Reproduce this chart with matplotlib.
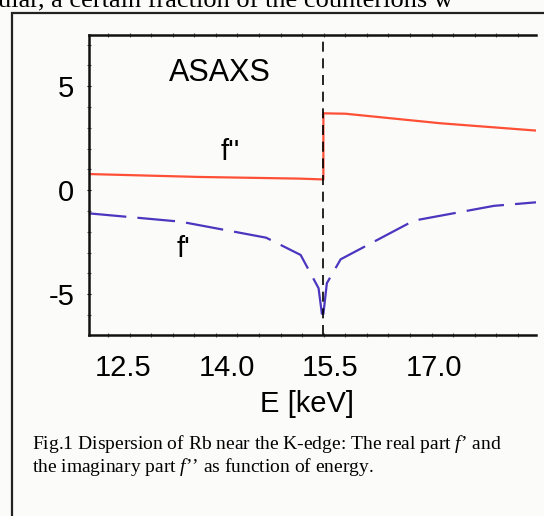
import matplotlib
matplotlib.use("Agg")
import matplotlib.pyplot as plt
from matplotlib.patches import Rectangle
import numpy as np

# --- datos ---
e_fpp = [12.0, 13.6, 15.05, 15.40, 15.40, 15.72, 17.10, 18.48]
fpp = [0.78, 0.64, 0.56, 0.52, 3.70, 3.68, 3.22, 2.87]

e_fp = [12.0, 13.33, 14.57, 15.07, 15.33, 15.39, 15.45, 15.65, 16.71, 17.87, 18.48]
fp = [-1.11, -1.51, -2.28, -3.11, -4.71, -6.24, -4.47, -3.32, -1.46, -0.75, -0.58]

e_borde = 15.40
xticks = [12.5, 14.0, 15.5, 17.0]
xtick_labels = ["12.5", "14.0", "15.5", "17.0"]
yticks = [-5, 0, 5]

fondo = "#fbfbf9"
rojo = "#ff4f36"
azul = "#4a36bf"

plt.rcParams["font.family"] = ["Liberation Sans", "DejaVu Sans"]
plt.rcParams["axes.unicode_minus"] = False
plt.rcParams["mathtext.fontset"] = "custom"
plt.rcParams["mathtext.it"] = "Liberation Serif:italic"
plt.rcParams["mathtext.rm"] = "Liberation Serif"

W, H = 544, 516
fig = plt.figure(figsize=(W / 100, H / 100), dpi=100, facecolor=fondo)

# texto cortado arriba (parrafo del documento)
fig.text(-2 / W, 1 - 7.5 / H, "ular, a certain fraction of the counterions w",
         family="Liberation Serif", fontsize=19, va="baseline", ha="left")

# marco exterior
fig.patches.append(Rectangle((12 / W, -0.1), 1.2, 1 - 13 / H + 0.1,
                             transform=fig.transFigure, fill=False,
                             lw=1.6, ec="#222222"))

ax = fig.add_axes([88.7 / W, 1 - 335 / H, (536 - 88.7) / W, (335 - 34.7) / H])
ax.set_facecolor(fondo)
ax.set_xlim(12.0, 18.48)
ax.set_ylim(-6.96, 7.48)

ax.plot(e_fpp, fpp, color=rojo, lw=1.6, solid_joinstyle="round")
ax.plot(e_fp, fp, color=azul, lw=1.6, dashes=(17, 5))
ax.axvline(e_borde, color="black", lw=1.2, dashes=(6, 4))

for s in ["left", "top", "bottom"]:
    ax.spines[s].set_linewidth(1.8)
    ax.spines[s].set_color("#111111")
ax.spines["right"].set_visible(False)

ax.set_xticks(xticks)
ax.set_xticklabels(xtick_labels)
ax.set_xticks(np.arange(12.28, 18.48, 0.3125), minor=True)
ax.set_yticks(yticks)
ax.set_yticks(np.arange(-6, 8, 1), minor=True)
ax.tick_params(axis="x", which="major", length=0, pad=14, labelsize=21)
ax.tick_params(axis="y", which="major", length=2.5, direction="inout", pad=9, labelsize=21)
ax.tick_params(which="minor", length=2.5, direction="inout", width=0.8, color="#555555")
ax.tick_params(top=True, which="both")

ax.text(13.905, 5.64, "ASAXS", fontsize=22, ha="center", va="center")
ax.text(14.05, 1.84, "f''", fontsize=21, ha="center", va="center")
ax.text(13.37, -2.82, "f'", fontsize=21, ha="center", va="center")

fig.text(307 / W, 1 - 412 / H, "E [keV]", fontsize=21, ha="center", va="baseline")

fig.text(32 / W, 1 - 449 / H,
         "Fig.1 Dispersion of Rb near the K-edge: The real part $f$\u2019 and",
         family="Liberation Serif", fontsize=14, va="baseline")
fig.text(32 / W, 1 - 472 / H,
         "the imaginary part $f$\u2019\u2019 as function of energy.",
         family="Liberation Serif", fontsize=14, va="baseline")

fig.savefig("out.png", dpi=100, facecolor=fondo)
